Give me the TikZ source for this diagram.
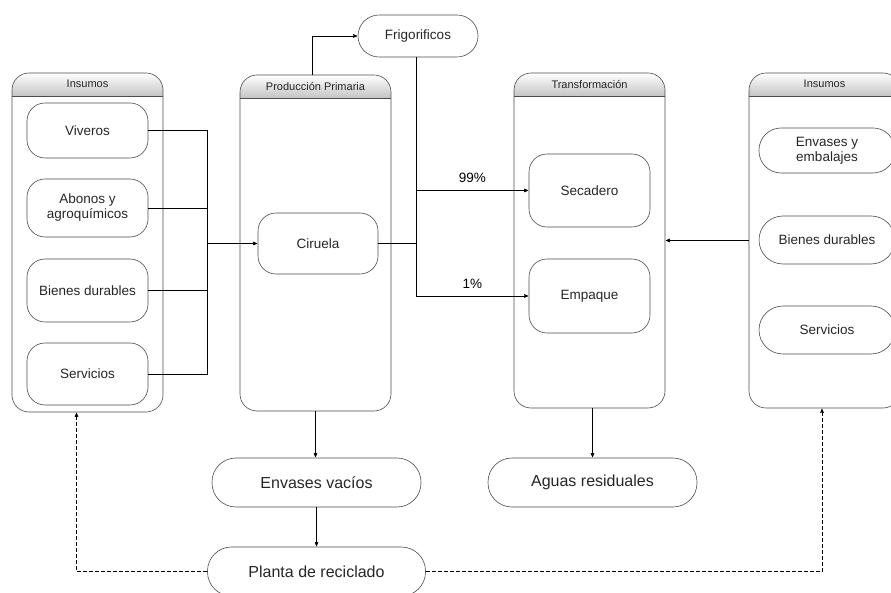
\documentclass[tikz,border=0pt]{standalone}
\usepackage{fontspec}
\setmainfont{Liberation Sans}
\usetikzlibrary{positioning}
\usetikzlibrary{arrows}

\begin{document}
\begin{tikzpicture}[>=stealth',x=1pt,y=1pt,semithick,node distance=80pt]
\tikzset{font=\fontsize{13.5}{15}\selectfont}
\tikzstyle{container}=[draw=black!70, rounded corners=17pt, minimum width=151pt, inner sep=0pt,
    path picture={
      \foreach \i in {0,...,22}
        \fill[sharp corners, black!\i] ([yshift=-\i pt]path picture bounding box.north west) rectangle ([yshift=-\i pt-1.2pt]path picture bounding box.north east);
      \draw[black!70] ([yshift=-23pt]path picture bounding box.north west) -- ([yshift=-23pt]path picture bounding box.north east);
    }]
\tikzstyle{head}=[font=\fontsize{11}{12}\selectfont, text=black!85]
\tikzstyle{box}=[draw=black!70, rounded corners=18pt, minimum width=121pt, align=center, inner sep=2pt, text=black!85]
\tikzstyle{pill}=[draw=black!70, align=center, inner sep=2pt, text=black!85]
\tikzstyle{flow}=[->, shorten >=0.5pt]

\useasboundingbox (0,0) rectangle (891,592);

        % containers
        \node[container, minimum height=339pt]                       (insL)   at (87.5,349.5)   {};
        \node[head]                                                  (insLt)  at ([yshift=-11.5pt]insL.north) {Insumos};

        \node[container, minimum height=336pt]                       (prod)   at (315.5,349)    {};
        \node[head]                                                  (prodt)  at ([yshift=-11.5pt]prod.north) {Producción Primaria};

        \node[container, minimum height=335pt]                       (trans)  at (589.5,351.5)  {};
        \node[head]                                                  (transt) at ([yshift=-11.5pt]trans.north) {Transformación};

        \node[container, minimum height=335pt]                       (insR)   at (824.5,351.5)  {};
        \node[head]                                                  (insRt)  at ([yshift=-11.5pt]insR.north) {Insumos};

        % insumos (left)
        \node[box, minimum height=55pt]                              (viv)    at (87.5,461.5)   {Viveros};
        \node[box, minimum height=58pt, node distance=77.5pt]        (abo)    [below of=viv]    {Abonos y\\agroquímicos};
        \node[box, minimum height=63pt, node distance=82.5pt]        (bienL)  [below of=abo]    {Bienes durables};
        \node[box, minimum height=62pt, node distance=83.5pt]        (servL)  [below of=bienL]  {Servicios};

        % produccion
        \node[box, minimum width=120pt, minimum height=61pt]         (cir)    at (318,348.5)    {Ciruela};
        \node[pill, minimum width=120pt, minimum height=42pt, rounded corners=21pt] (frig) at (418,556) {Frigorificos};

        % transformacion
        \node[box, minimum height=73pt]                              (sec)    at (589.5,401.5)  {Secadero};
        \node[box, minimum height=74pt, node distance=105.5pt]       (emp)    [below of=sec]    {Empaque};

        % insumos (right)
        \node[pill, minimum width=136pt, minimum height=45pt, rounded corners=22pt] (envR)  at (827,441.5) {Envases y\\embalajes};
        \node[pill, minimum width=136pt, minimum height=48pt, rounded corners=24pt, node distance=89.5pt] (bienR) [below of=envR]  {Bienes durables};
        \node[pill, minimum width=136pt, minimum height=48pt, rounded corners=24pt, node distance=90pt]   (servR) [below of=bienR] {Servicios};

        % residuos
        \node[pill, minimum width=209pt, minimum height=49pt, rounded corners=24pt, font=\fontsize{16}{18}\selectfont] (vac)   at (316.5,109.5) {Envases vacíos};
        \node[pill, minimum width=209pt, minimum height=49pt, rounded corners=24pt, font=\fontsize{16}{18}\selectfont] (aguas) at (592.5,109.5) {Aguas residuales};
        \node[pill, minimum width=218pt, minimum height=49pt, rounded corners=24pt, font=\fontsize{16}{18}\selectfont, node distance=89pt] (planta) [below of=vac] {Planta de reciclado};

        \coordinate (busL)  at (207,348.5);
        \coordinate (split) at ([xshift=-2pt]frig.south |- cir.east);

        \draw (viv.east) -| (busL);
        \draw (servL.east) -| (busL);
        \draw (abo.east) -- (abo.east -| busL);
        \draw (bienL.east) -- (bienL.east -| busL);
        \draw[flow] (busL) -- (cir.west);

        \draw[flow] ([xshift=-3.5pt]prod.north) |- (frig.west);
        \draw (cir.east) -- (split);
        \draw ([xshift=-2pt]frig.south) -- ([xshift=-2pt]frig.south |- emp.west);
        \draw[flow] (split |- sec.west) -- node[above=4pt] {99\%} (sec.west);
        \draw[flow] (split |- emp.west) -- node[above=4pt] {1\%} (emp.west);

        \draw[flow] (insR.west) -- (trans.east);
        \draw[flow] (prod.south) -- (prod.south |- vac.north);
        \draw[flow] (aguas.north |- trans.south) -- (aguas.north);
        \draw[flow] (vac.south) -- (planta.north);

        \draw[flow, dash pattern=on 4pt off 2pt] (planta.west) -| ([xshift=-11pt]insL.south);
        \draw[flow, dash pattern=on 4pt off 2pt] (planta.east) -| ([xshift=-2.5pt]insR.south);

\end{tikzpicture}
\end{document}
